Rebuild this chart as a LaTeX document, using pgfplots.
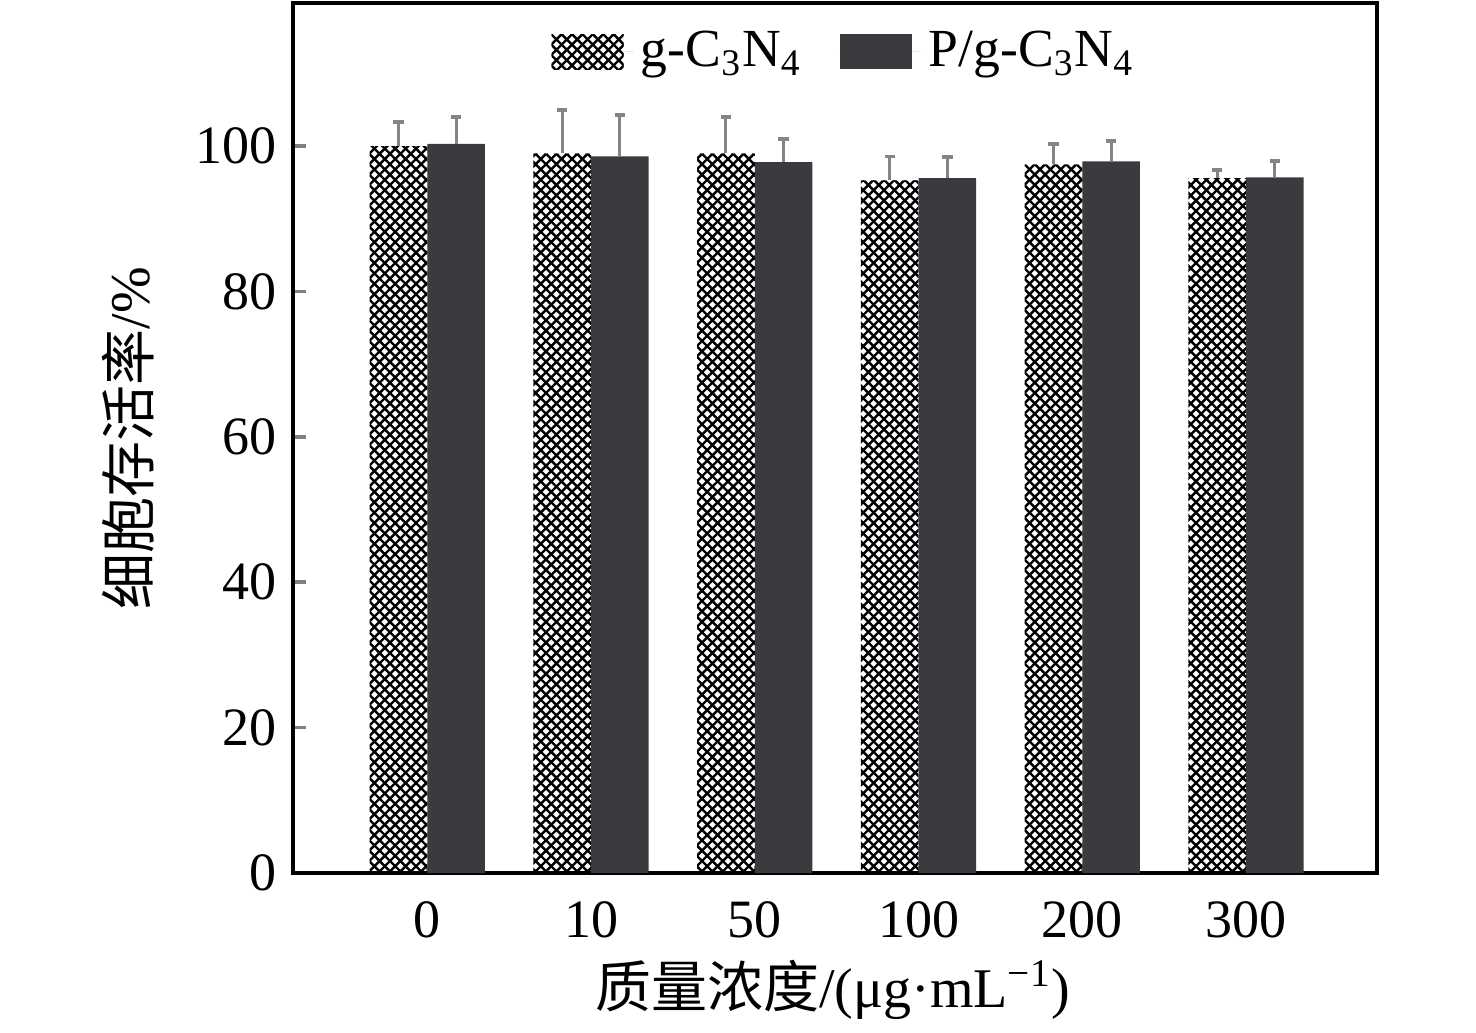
\documentclass[border=0pt]{standalone}
\usepackage{pgfplots}
\pgfplotsset{compat=1.18}
\usepackage{fontspec}
\setmainfont{Liberation Serif}
\newfontfamily\cjk{Noto Sans CJK SC}
\usetikzlibrary{patterns}
\pgfdeclarepatternformonly{dcross}{\pgfpoint{-1pt}{-1pt}}{\pgfpoint{3.6pt}{3.6pt}}{\pgfpoint{2.6pt}{2.6pt}}{
  \pgfsetlinewidth{0.6pt}
  \pgfpathmoveto{\pgfpoint{0pt}{0pt}}\pgfpathlineto{\pgfpoint{2.6pt}{2.6pt}}
  \pgfpathmoveto{\pgfpoint{0pt}{2.6pt}}\pgfpathlineto{\pgfpoint{2.6pt}{0pt}}
  \pgfusepath{stroke}}
\definecolor{darkbar}{HTML}{3B3A3E}
\definecolor{errgray}{HTML}{858585}
\begin{document}
\begin{tikzpicture}
\begin{axis}[
  name=ax,
  scale only axis,
  width=271pt, height=217.5pt,
  ybar=0pt, bar width=14.4pt,
  xmin=-0.82, xmax=5.8,
  ymin=0, ymax=119.7,
  xtick={0,1,2,3,4,5},
  xticklabels={0,10,50,100,200,300},
  ytick={0,20,40,60,80,100},
  tick align=inside,
  xtick pos=bottom, ytick pos=left,
  major tick length=3.3pt,
  xtick style={/pgfplots/major tick length=1.8pt, line width=0.5pt},
  ytick style={line width=0.9pt},
  axis line style={line width=1pt},
  /pgf/number format/assume math mode=true,
  tick label style={font=\fontsize{13.5pt}{14pt}\selectfont},
  xticklabel style={yshift=-3.5pt},
  yticklabel style={xshift=-0.5pt},
  xlabel={{\cjk 质量浓度}/(μg·mL\textsuperscript{−1})},
  ylabel={{\cjk 细胞存活率}/\%},
  label style={font=\fontsize{14pt}{15pt}\selectfont},
  xlabel style={at={(axis description cs:0.498,-0.134)}, anchor=center},
  ylabel style={at={(axis description cs:-0.152,0.5)}, anchor=center, rotate=0},
  legend style={draw=none, fill=none, at={(axis description cs:0.511,0.944)}, anchor=center,
    legend columns=2, font=\fontsize{13.4pt}{14pt}\selectfont,
    /tikz/every even column/.append style={column sep=7.5pt}},
  legend image code/.code={\fill[#1] (0pt,-4.4pt) rectangle (18pt,4.4pt); \path (0pt,0pt) -- (20.3pt,0pt);},
  error bars/y dir=plus, error bars/y explicit,
  error bars/error mark=|,
  error bars/error bar style={errgray, line width=0.75pt},
  error bars/error mark options={errgray, line width=0.9pt, mark size=1.3pt},
]
\addplot[draw=none, pattern=dcross, pattern color=black] coordinates {
  (0,100.0) +- (0,3.3)
  (1,99.0) +- (0,6.0)
  (2,99.0) +- (0,5.0)
  (3,95.3) +- (0,3.3)
  (4,97.5) +- (0,2.8)
  (5,95.6) +- (0,1.1)
};
\addplot[draw=none, fill=darkbar] coordinates {
  (0,100.3) +- (0,3.7)
  (1,98.6) +- (0,5.7)
  (2,97.8) +- (0,3.2)
  (3,95.6) +- (0,2.9)
  (4,97.9) +- (0,2.8)
  (5,95.7) +- (0,2.3)
};
\legend{g-C\textsubscript{3}N\textsubscript{4}, P/g-C\textsubscript{3}N\textsubscript{4}}
\end{axis}
\path (ax.south west) ++(-73.25pt,-38.75pt) rectangle ++(369pt,257pt);
\end{tikzpicture}
\end{document}
